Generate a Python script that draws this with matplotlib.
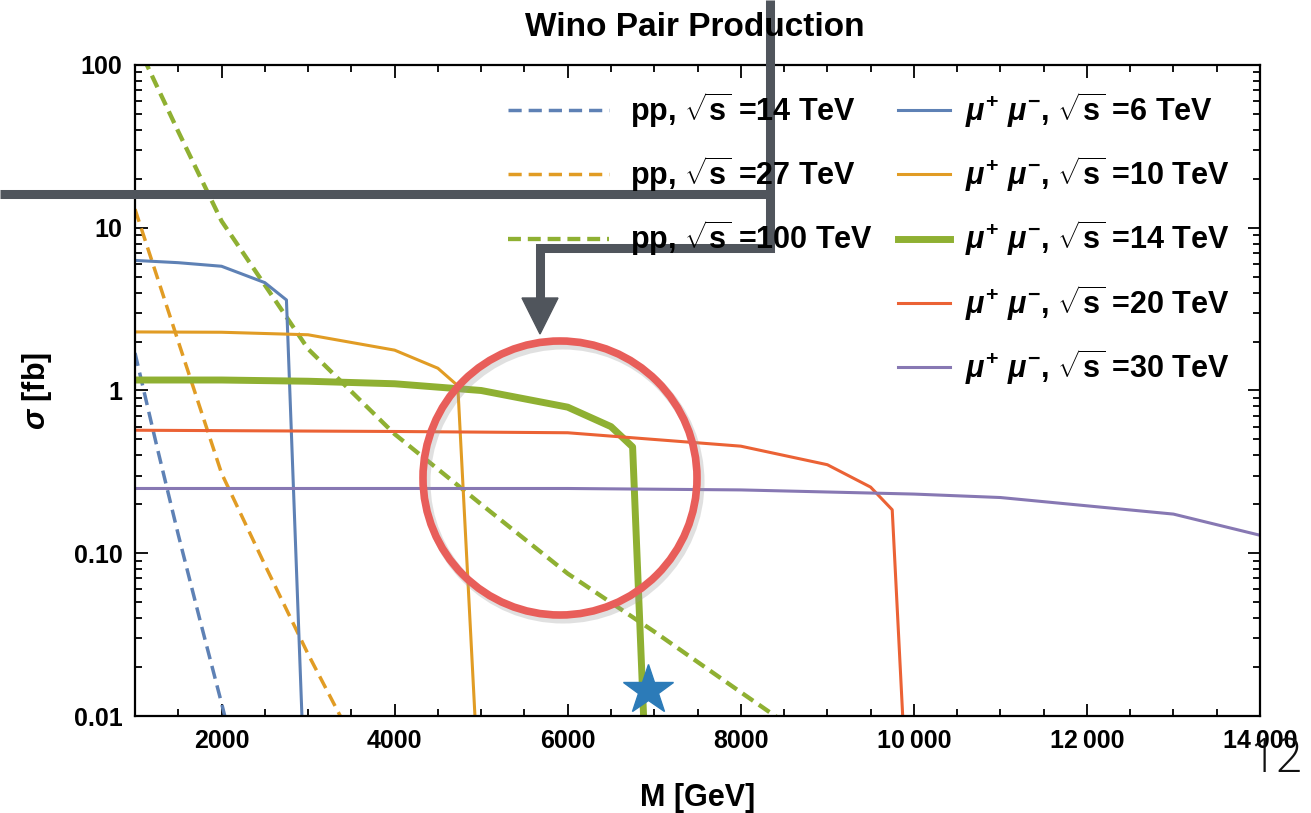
import numpy as np
import matplotlib
matplotlib.use("Agg")
import matplotlib.pyplot as plt
from matplotlib.lines import Line2D
from matplotlib.patches import Ellipse, Polygon
from matplotlib.ticker import FixedLocator, LogLocator, NullFormatter

# ---- data (M in GeV, sigma in fb) ----
pp14_m = [1000, 1250, 1500, 1750, 2000, 2250]
pp14_s = [1.7, 0.46, 0.13, 0.039, 0.012, 0.0035]

pp27_m = [1000, 1500, 2000, 2500, 3000, 3500]
pp27_s = [13.0, 2.0, 0.31, 0.085, 0.024, 0.0074]

pp100_m = [1000, 1500, 2000, 3000, 4000, 5000, 6000, 7000, 8000, 9000]
pp100_s = [143, 39, 11, 1.8, 0.54, 0.2, 0.075, 0.033, 0.014, 0.006]

mu6_m = [1000, 1500, 2000, 2500, 2750, 2950]
mu6_s = [6.3, 6.1, 5.8, 4.6, 3.6, 0.005]

mu10_m = [1000, 2000, 3000, 4000, 4500, 4730, 4950]
mu10_s = [2.29, 2.28, 2.2, 1.77, 1.37, 1.07, 0.006]

mu14_m = [1000, 2000, 3000, 4000, 5000, 6000, 6500, 6750, 6900]
mu14_s = [1.16, 1.16, 1.14, 1.1, 1.0, 0.79, 0.6, 0.45, 0.005]

mu20_m = [1000, 4000, 6000, 8000, 9000, 9500, 9750, 9900]
mu20_s = [0.57, 0.56, 0.55, 0.455, 0.35, 0.255, 0.185, 0.005]

mu30_m = [1000, 6000, 8000, 10000, 11000, 13000, 14000]
mu30_s = [0.25, 0.25, 0.245, 0.231, 0.22, 0.174, 0.129]

star_m, star_s = [6930], [0.0145]

x_ticks = [2000, 4000, 6000, 8000, 10000, 12000, 14000]
x_ticklabels = ["2000", "4000", "6000", "8000", "10\u2009000", "12\u2009000", "14\u2009000"]
y_ticks = [0.01, 0.1, 1, 10, 100]
y_ticklabels = ["0.01", "0.10", "1", "10", "100"]

BLUE, ORANGE, GREEN, RED, PURPLE = "#5E81B5", "#E19C24", "#8FB032", "#EB6235", "#8778B3"
GREY = "#50555C"

W, H = 1311, 813
plt.rcParams.update({
    "font.family": ["Liberation Sans", "DejaVu Sans"],
    "font.weight": "bold",
    "axes.labelweight": "bold",
    "mathtext.fontset": "custom",
    "mathtext.rm": "Liberation Sans:bold",
    "mathtext.bf": "Liberation Sans:bold",
    "mathtext.it": "Liberation Sans:italic",
})

fig = plt.figure(figsize=(W / 100, H / 100), dpi=100)
ax = fig.add_axes([135 / W, 1 - 716 / H, 1125 / W, 651 / H])


def fx(px):
    return px / W


def fy(py):
    return 1 - py / H


thin_dash = (0, (3.8, 2.0))
thick_dash = (0, (3.0, 1.6))
ax.plot(pp14_m, pp14_s, color=BLUE, lw=2.5, ls=thin_dash, label=r"pp, $\sqrt{\mathbf{s}}$ =14 TeV")
ax.plot(pp27_m, pp27_s, color=ORANGE, lw=2.5, ls=thin_dash, label=r"pp, $\sqrt{\mathbf{s}}$ =27 TeV")
ax.plot(pp100_m, pp100_s, color=GREEN, lw=3.1, ls=thick_dash, label=r"pp, $\sqrt{\mathbf{s}}$ =100 TeV")
mu_lab = r"$\mu^{+}\ \mu^{-}$, $\sqrt{\mathbf{s}}$ ={} TeV"
ax.plot(mu6_m, mu6_s, color=BLUE, lw=2.2, label=mu_lab.replace("{}", "6"))
ax.plot(mu10_m, mu10_s, color=ORANGE, lw=2.2, label=mu_lab.replace("{}", "10"))
ax.plot(mu14_m, mu14_s, color=GREEN, lw=5.0, label=mu_lab.replace("{}", "14"))
ax.plot(mu20_m, mu20_s, color=RED, lw=2.2, label=mu_lab.replace("{}", "20"))
ax.plot(mu30_m, mu30_s, color=PURPLE, lw=2.2, label=mu_lab.replace("{}", "30"))

ax.set_yscale("log")
ax.set_xlim(1000, 14000)
ax.set_ylim(0.01, 100)

ax.xaxis.set_major_locator(FixedLocator(x_ticks))
ax.set_xticklabels(x_ticklabels)
ax.xaxis.set_minor_locator(FixedLocator(np.arange(1000, 14001, 500)))
ax.set_yticks(y_ticks)
ax.set_yticklabels(y_ticklabels)
ax.yaxis.set_minor_locator(LogLocator(base=10, subs=np.arange(2, 10)))
ax.yaxis.set_minor_formatter(NullFormatter())
ax.tick_params(which="both", direction="in", top=True, right=True, width=1.3,
               labelsize=18, pad=9)
ax.tick_params(which="major", length=9)
ax.tick_params(which="minor", length=5)
for s in ax.spines.values():
    s.set_linewidth(1.6)

ax.set_xlabel("M [GeV]", fontsize=22, labelpad=22)
ax.set_ylabel(r"$\sigma$ [fb]", fontsize=22, labelpad=14)
fig.text(fx(695), fy(28), "Wino Pair Production", ha="center", va="center",
         fontsize=24, fontweight="bold")

h, l = ax.get_legend_handles_labels()
leg1 = fig.legend(h[:3], l[:3], loc="upper left", bbox_to_anchor=(fx(508), fy(90)),
                  frameon=False, fontsize=22, handlelength=3.3, handletextpad=0.7,
                  labelspacing=0.8, borderpad=0, borderaxespad=0)
leg2 = fig.legend(h[3:], l[3:], loc="upper left", bbox_to_anchor=(fx(898), fy(90)),
                  frameon=False, fontsize=22, handlelength=1.7, handletextpad=0.5,
                  labelspacing=0.8, borderpad=0, borderaxespad=0)

# star marker at the 14 TeV muon-collider reach
ax.plot(star_m, star_s, marker="*", ms=38, color="#2C7BB8", ls="none", clip_on=False, zorder=6)

# slide overlays: red circle and grey connector arrow
fig.add_artist(Ellipse((fx(563), fy(482)), 274 / W, 274 / H, fill=False, lw=6.5,
                       ec="#9A9A9A", alpha=0.3, transform=fig.transFigure))
fig.add_artist(Ellipse((fx(560), fy(478)), 274 / W, 274 / H, fill=False, lw=5.5,
                       ec="#E85E5A", transform=fig.transFigure))

fig.add_artist(Line2D([fx(0), fx(774)], [fy(194), fy(194)], color=GREY, lw=6.5,
                      solid_capstyle="butt", transform=fig.transFigure))
fig.add_artist(Line2D([fx(770), fx(770), fx(540), fx(540)], [fy(0), fy(248), fy(248), fy(300)],
                      color=GREY, lw=6.5, solid_joinstyle="miter", solid_capstyle="butt",
                      transform=fig.transFigure))
fig.add_artist(Polygon([(fx(522), fy(298)), (fx(558), fy(298)), (fx(540), fy(334))],
                       closed=True, color=GREY, transform=fig.transFigure))

# slide page number (overlaps the last tick label in the reference too)
fig.text(fx(1276), fy(772), "12", ha="center", va="baseline", fontsize=34,
         fontweight="light", family=["Open Sans", "DejaVu Sans"], color="#111111")

fig.savefig("out.png", dpi=100)
